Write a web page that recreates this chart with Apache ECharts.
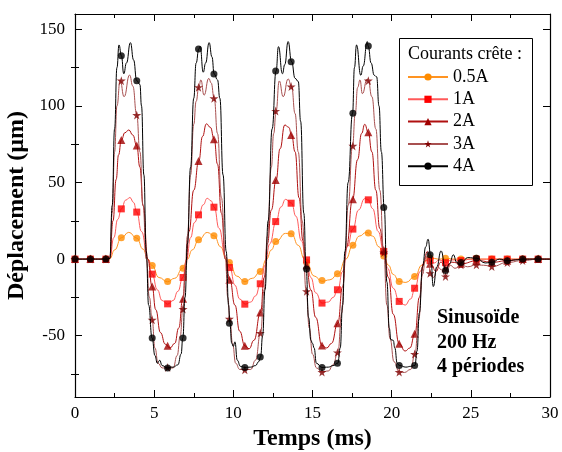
<!DOCTYPE html>
<html><head><meta charset="utf-8">
<script src="https://cdn.jsdelivr.net/npm/echarts@6/dist/echarts.min.js"></script>
<style>html,body{margin:0;padding:0;background:#fff}#c{width:562px;height:452px}</style>
</head><body><div id="c"></div>
<script>
// ---------- data ----------
const seriesNames = ['0.5A', '1A', '2A', '3A', '4A'];
const xMajorTicks = [0, 5, 10, 15, 20, 25, 30];
const yMajorTicks = [-50, 0, 50, 100, 150];
const yMinorTicks = [-75, -25, 25, 75, 125];

const markerTimes = [0,0.975,1.95,2.925,3.9,4.875,5.85,6.825,7.8,8.775,9.75,10.725,11.7,12.675,13.65,14.625,15.6,16.575,17.55,18.525,19.5,20.475,21.45,22.425,23.4,24.375,25.35,26.325,27.3,28.275,29.25];

const curve05 = [[0,0],[1,0],[2,0],[2.2,0.3],[2.5,6],[2.93,14],[3.4,17.5],[3.9,13.7],[4.3,6.5],[4.6,0],[4.87,-4.2],[5.3,-12],[5.84,-14.8],[6.3,-12.5],[6.81,-5.9],[7.1,0],[7.4,6],[7.82,12.6],[8.35,17.4],[8.79,15.2],[9.2,8],[9.55,0],[9.78,-2.2],[10.2,-11],[10.73,-14.7],[11.2,-12.5],[11.72,-8.1],[12.1,0],[12.4,6],[12.7,11.5],[13.3,16.8],[13.68,16.5],[14.1,9],[14.5,0],[14.62,-2],[15.1,-11],[15.6,-14.5],[16.1,-13.5],[16.63,-9.6],[17.1,0],[17.55,9],[17.95,15],[18.4,17.4],[18.8,15],[19.2,8],[19.5,2],[19.8,-4],[20.1,-10],[20.48,-14.6],[20.9,-15.2],[21.47,-11.3],[21.9,-4],[22.3,0],[22.6,0.5],[23,0],[23.4,0.5],[24,0],[25,0],[26,0],[27,0],[28,0],[29,0],[30,0]];
const marks05 = [0,0,0,14,13.7,-4.2,-14.6,-5.9,12.6,15.2,-2.2,-14.6,-8.1,11.5,16.5,-2,-13.9,-9.6,9,17,2,-14.6,-11.3,0.5,0.5,0,0.5,0,0,0,0];

const curve1 = [[0,0],[1,0],[2,0],[2.2,0.5],[2.45,14],[2.7,26],[2.93,32.8],[3.2,38.5],[3.47,40.2],[3.7,37],[3.9,30.7],[4.2,18],[4.6,0],[4.87,-9.8],[5.2,-20],[5.5,-27],[5.85,-29.4],[6.2,-27],[6.5,-21],[6.81,-12],[7.05,0],[7.3,14],[7.55,24],[7.82,29],[8.1,35.5],[8.35,39.7],[8.6,38],[8.79,34],[9.1,20],[9.5,2],[9.78,-5.5],[10.1,-17],[10.4,-26],[10.75,-29.4],[11.1,-28],[11.4,-24],[11.72,-16.1],[12.0,-4],[12.3,10],[12.7,24.5],[13.0,34],[13.3,39],[13.68,36.5],[13.95,28],[14.3,12],[14.6,-0.5],[14.9,-12],[15.2,-22],[15.6,-28.7],[16.0,-28],[16.3,-25],[16.6,-20],[16.9,-8],[17.2,8],[17.55,19.6],[17.9,32],[18.3,39.5],[18.52,38.7],[18.8,33],[19.15,18],[19.5,5],[19.75,-6],[20.1,-19],[20.48,-27.6],[20.85,-30],[21.2,-26],[21.47,-19],[21.8,-8],[22.1,-1],[22.4,-1],[22.7,-2.5],[23.0,-0.5],[23.4,-2.3],[23.8,-0.5],[24.4,-1],[25,0],[26,0],[27,0],[28,0],[29,0],[30,0]];
const marks1 = [0,0,0,32.8,30.7,-9.8,-29.2,-12,28.9,33.9,-5.5,-29.4,-16.1,24.5,36.5,-0.5,-28.7,-20,19.6,38.7,5,-27.6,-19,-1,-2.3,-1,0,0,0,0,0];

const curve2 = [[0,0],[1,0],[2,0],[2.2,0.5],[2.4,25],[2.6,52],[2.75,68],[2.93,77.8],[3.15,82.5],[3.4,84.3],[3.65,81],[3.9,74.1],[4.1,60],[4.3,35],[4.6,0],[4.87,-17.8],[5.1,-33],[5.4,-48],[5.7,-55.5],[6.0,-58],[6.3,-55],[6.55,-45],[6.81,-25.9],[7.0,-5],[7.2,18],[7.5,45],[7.82,64.1],[8.05,80],[8.3,88.3],[8.55,86],[8.79,78.3],[9.0,62],[9.25,30],[9.5,0],[9.78,-13.5],[10.1,-30],[10.4,-47],[10.73,-56.6],[11.0,-58.5],[11.3,-53],[11.72,-34.8],[11.95,-12],[12.15,10],[12.4,32],[12.7,51.7],[12.95,72],[13.25,87.6],[13.5,86],[13.68,81],[13.9,70],[14.15,40],[14.4,12],[14.6,-4],[14.9,-20],[15.2,-38],[15.6,-56.4],[15.9,-58],[16.2,-55],[16.6,-41.8],[16.9,-18],[17.15,8],[17.53,39],[17.85,65],[18.1,82],[18.3,88],[18.52,82.8],[18.75,70],[19.0,45],[19.25,20],[19.5,6],[19.8,-12],[20.1,-36],[20.48,-55.3],[20.85,-60],[21.15,-58],[21.47,-48.7],[21.75,-25],[22.0,-3],[22.25,5],[22.5,-4],[22.8,-8],[23.1,-2],[23.45,-6],[23.8,-2],[24.4,-3],[25.4,-1],[26.4,-2],[27.3,-1],[28.3,0],[29.3,0],[30,0]];
const marks2 = [0,0,0,77.8,74.1,-17.8,-56.6,-25.9,64.1,78.3,-13.5,-56.6,-34.8,51.7,81,-4,-56.4,-41.8,39,82.8,6,-55.3,-48.7,-3,-6,-3,-1,-2,-1,0,0];

const curve3 = [[0,0],[1,0],[2,0],[2.2,0.5],[2.35,30],[2.5,70],[2.65,100],[2.85,116.7],[3.1,106],[3.45,120.2],[3.65,113],[3.9,94],[4.1,70],[4.3,35],[4.5,0],[4.7,-25],[4.87,-39.6],[5.05,-58],[5.25,-68],[5.5,-71],[5.84,-71.5],[6.2,-71],[6.45,-63],[6.65,-50],[6.81,-32.6],[6.95,-10],[7.1,15],[7.3,55],[7.5,88],[7.65,103],[7.82,112.2],[7.95,117],[8.15,107],[8.45,118],[8.6,115],[8.79,105],[9.0,82],[9.25,40],[9.5,0],[9.65,-25],[9.78,-39],[9.95,-55],[10.15,-68],[10.4,-72],[10.73,-72.2],[11.1,-72],[11.4,-66],[11.72,-48.3],[11.95,-20],[12.15,15],[12.4,60],[12.55,82],[12.7,96.7],[12.9,116.3],[13.15,106],[13.46,117.6],[13.68,112.6],[13.9,95],[14.1,70],[14.35,25],[14.6,-21],[14.8,-45],[15.0,-62],[15.25,-71],[15.6,-73.7],[16.0,-73],[16.3,-69],[16.6,-60.9],[16.85,-35],[17.05,0],[17.25,35],[17.53,73.9],[17.7,95],[17.85,112],[18.0,117],[18.15,108],[18.45,117.5],[18.52,116.5],[18.75,106],[19.0,85],[19.25,45],[19.5,4.3],[19.7,-30],[19.9,-52],[20.15,-67],[20.48,-73.7],[20.8,-74],[21.2,-72],[21.47,-62],[21.7,-40],[21.95,-10],[22.15,2],[22.3,0],[22.46,-9.2],[22.65,-12],[22.9,-5],[23.15,-7],[23.4,-11.3],[23.7,-4],[24.0,-6],[24.4,-3.7],[24.8,-5],[25.35,-3.7],[25.8,-4],[26.35,-4.8],[27.3,-2.2],[28.3,-0.9],[29.3,0],[30,0]];
const marks3 = [0,0,0,116.5,94,-39.6,-70.7,-32.6,112.2,105,-39,-72.2,-48.3,96.7,112.6,-21,-73.7,-60.9,73.9,116.5,4.3,-73.7,-62,-9.2,-11.3,-3.7,-3.7,-4.8,-2.2,-0.9,0];

const curve4 = [[0,0],[1,0],[2,0],[2.2,0.5],[2.35,35],[2.5,85],[2.65,125],[2.78,139.8],[2.93,132.8],[3.08,121],[3.25,128],[3.5,141.3],[3.7,130],[3.9,116.5],[4.1,114],[4.2,100],[4.35,55],[4.5,5],[4.65,-30],[4.87,-51.5],[5.05,-63],[5.2,-68],[5.35,-66],[5.5,-69.5],[5.84,-71],[6.2,-70.5],[6.5,-69],[6.7,-62],[6.81,-51.5],[6.95,-25],[7.1,10],[7.3,60],[7.5,105],[7.65,128],[7.82,137.2],[7.9,139],[8.1,122],[8.25,128],[8.47,141.3],[8.65,132],[8.79,120.9],[9.0,117],[9.15,105],[9.35,55],[9.55,5],[9.7,-30],[9.78,-41.8],[9.9,-55],[10.0,-57],[10.1,-54],[10.25,-66],[10.45,-70],[10.73,-70.7],[11.1,-70.5],[11.4,-69.5],[11.6,-67],[11.72,-63.9],[11.85,-50],[12.0,-20],[12.2,25],[12.45,85],[12.7,122.8],[12.85,138.7],[13.1,121],[13.25,127],[13.46,142],[13.68,128.9],[13.9,118],[14.1,116],[14.25,90],[14.45,30],[14.6,-6.5],[14.75,-38],[14.9,-53],[15.0,-55],[15.1,-58],[15.25,-68],[15.6,-70.7],[16.0,-70.5],[16.3,-69.5],[16.6,-67.9],[16.75,-58],[16.9,-30],[17.05,5],[17.25,50],[17.53,95.2],[17.65,125],[17.78,139.8],[18.05,120],[18.2,126],[18.46,142],[18.52,139],[18.7,128],[18.9,120],[19.05,119],[19.2,100],[19.35,70],[19.53,33.7],[19.7,-15],[19.85,-45],[19.95,-52.6],[20.1,-53],[20.2,-58],[20.35,-68],[20.48,-69.4],[20.9,-70.5],[21.2,-70],[21.47,-69.4],[21.6,-60],[21.75,-35],[21.95,-5],[22.15,8],[22.3,13],[22.46,2.8],[22.63,-17.9],[22.85,-5],[23.12,5.4],[23.41,-7.4],[23.65,-3],[23.9,2.8],[24.1,-2],[24.3,-3.7],[24.42,-2.2],[24.8,1],[25.37,0.6],[25.9,-2.5],[26.36,-2],[26.8,0],[27.33,-1.1],[27.8,-0.5],[28.3,0],[29.27,0],[30,0]];
const marks4 = [0,0,0,132.8,116.5,-51.5,-71,-51.5,137.2,120.9,-41.8,-70.7,-63.9,122.8,128.9,-6.5,-70.7,-67.9,95.2,139.1,33.7,-69.4,-69.4,2.8,-7.4,-2.2,0.6,-2,-1.1,0,0];

// ---------- styling ----------
const FONT = 'Liberation Serif';
const STAR = 'path://M50,0 L61,35 L98,35 L68,57 L79,91 L50,70 L21,91 L32,57 L2,35 L39,35 Z';
const styles = [
  {line: '#FF9422', mark: '#FF8C00', symbol: 'circle',   size: 7},
  {line: '#FF5A5A', mark: '#FF0000', symbol: 'rect',     size: 7},
  {line: '#B01010', mark: '#A00000', symbol: 'triangle', size: 8},
  {line: '#A85050', mark: '#800000', symbol: STAR,       size: 9},
  {line: '#000000', mark: '#000000', symbol: 'circle',   size: 7}
];
const curves = [curve05, curve1, curve2, curve3, curve4];
const marks = [marks05, marks1, marks2, marks3, marks4];

const series = [];
curves.forEach((c, i) => {
  const st = styles[i];
  series.push({
    type: 'line', name: seriesNames[i], data: c, xAxisIndex: 0, yAxisIndex: 0,
    smooth: 0.5, smoothMonotone: 'x', showSymbol: false, symbol: st.symbol, symbolSize: st.size,
    lineStyle: {color: st.line, width: 1}, itemStyle: {color: st.mark},
    silent: true, z: 2 + i
  });
  series.push({
    type: 'scatter', name: seriesNames[i] + ' pts',
    data: markerTimes.map((t, k) => [t, marks[i][k]]), xAxisIndex: 0, yAxisIndex: 0,
    symbol: st.symbol, symbolSize: st.size, itemStyle: {color: st.mark},
    silent: true, z: 2 + i
  });
});

const axisLineStyle = {show: true, onZero: false, lineStyle: {color: '#000', width: 1.2}};
const tickStyle = {color: '#000', width: 1};

const option = {
  animation: false,
  backgroundColor: '#fff',
  grid: {left: 75, right: 12, top: 14, bottom: 55, containLabel: false, outerBoundsMode: 'none'},
  xAxis: [
    {type: 'value', min: 0, max: 30, interval: 5, position: 'bottom',
     axisLine: axisLineStyle,
     axisTick: {show: true, inside: true, length: 7, lineStyle: tickStyle},
     minorTick: {show: true, splitNumber: 2, length: 4, lineStyle: tickStyle},
     splitLine: {show: false}, minorSplitLine: {show: false},
     axisLabel: {color: '#000', fontFamily: FONT, fontSize: 17, margin: 8},
     name: 'Temps (ms)', nameLocation: 'middle', nameGap: 30,
     nameTextStyle: {fontFamily: FONT, fontSize: 24, fontWeight: 'bold', color: '#000'}},
    {type: 'value', min: 0, max: 30, interval: 5, position: 'top',
     axisLine: axisLineStyle,
     axisTick: {show: true, inside: true, length: 7, lineStyle: tickStyle},
     minorTick: {show: true, splitNumber: 2, length: 4, lineStyle: tickStyle},
     splitLine: {show: false}, axisLabel: {show: false}}
  ],
  yAxis: [
    {type: 'value', min: -90, max: 160, position: 'left',
     axisLine: axisLineStyle,
     axisTick: {show: true, inside: true, length: 7, lineStyle: tickStyle, customValues: yMajorTicks},
     axisLabel: {color: '#000', fontFamily: FONT, fontSize: 17, margin: 10, customValues: yMajorTicks},
     splitLine: {show: false},
     name: 'Déplacement (µm)', nameLocation: 'middle', nameGap: 39,
     nameTextStyle: {fontFamily: FONT, fontSize: 24, fontWeight: 'bold', color: '#000'}},
    {type: 'value', min: -90, max: 160, position: 'left',
     axisLine: {show: false},
     axisTick: {show: true, inside: true, length: 4, lineStyle: tickStyle, customValues: yMinorTicks},
     axisLabel: {show: false, customValues: yMinorTicks}, splitLine: {show: false}},
    {type: 'value', min: -90, max: 160, position: 'right',
     axisLine: axisLineStyle,
     axisTick: {show: true, inside: true, length: 7, lineStyle: tickStyle, customValues: yMajorTicks},
     axisLabel: {show: false, customValues: yMajorTicks}, splitLine: {show: false}},
    {type: 'value', min: -90, max: 160, position: 'right',
     axisLine: {show: false},
     axisTick: {show: true, inside: true, length: 4, lineStyle: tickStyle, customValues: yMinorTicks},
     axisLabel: {show: false, customValues: yMinorTicks}, splitLine: {show: false}}
  ],
  legend: {
    data: seriesNames, orient: 'vertical', left: 407, top: 68, padding: 0,
    itemWidth: 40, itemHeight: 9, itemGap: 4.3, selectedMode: false,
    textStyle: {fontFamily: FONT, fontSize: 18, color: '#000', lineHeight: 18}
  },
  graphic: [
    {type: 'rect', left: 397, top: 36, shape: {width: 133, height: 147},
     style: {fill: 'none', stroke: '#000', lineWidth: 1}, z: 50},
    {type: 'text', left: 408, top: 45,
     style: {text: 'Courants crête :', font: '18px "Liberation Serif"', fill: '#000'}, z: 50},
    {type: 'text', left: 437, top: 306,
     style: {text: 'Sinusoïde\n200 Hz\n4 périodes', font: 'bold 20px "Liberation Serif"', lineHeight: 24.5, fill: '#000'}, z: 50}
  ],
  series: series
};

const chart = echarts.init(document.getElementById('c'), null, {renderer: 'canvas'});
chart.setOption(option);
</script>
</body></html>
